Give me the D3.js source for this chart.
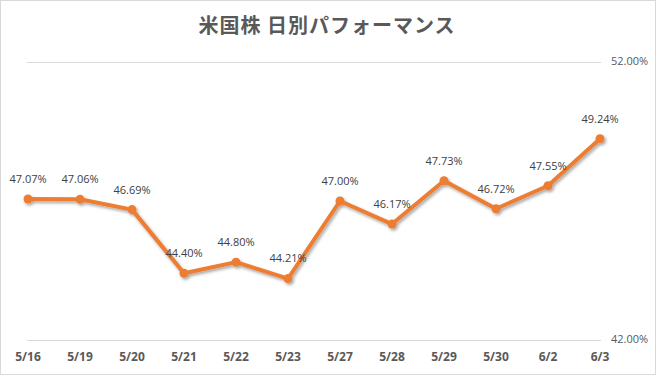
<!DOCTYPE html>
<html>
<head>
<meta charset="utf-8">
<script src="https://cdn.jsdelivr.net/npm/d3@7"></script>
<style>
  body { margin: 0; background: #fff; }
  text { font-family: 'Open Sans', 'Noto Sans', sans-serif; }
</style>
</head>
<body>
<div id="chart"></div>
<script>
let dates = ['5/16', '5/19', '5/20', '5/21', '5/22', '5/23', '5/27', '5/28', '5/29', '5/30', '6/2', '6/3']
let values = [47.07, 47.06, 46.69, 44.40, 44.80, 44.21, 47.00, 46.17, 47.73, 46.72, 47.55, 49.24]
let yTicks = [42, 52]

let width = 657
let height = 376
let margin = { top: 62, left: 28, right: 57, bottom: 36 }

let svg = d3
  .select('#chart')
  .append('svg')
  .attr('width', width)
  .attr('height', height)

// drop shadow for the line
let defs = svg.append('defs')
let filter = defs.append('filter').attr('id', 'shadow')
  .attr('x', '-10%').attr('y', '-10%').attr('width', '120%').attr('height', '130%')
filter.append('feDropShadow')
  .attr('dx', 1.5).attr('dy', 2).attr('stdDeviation', 1.5)
  .attr('flood-color', '#000').attr('flood-opacity', 0.35)

// outer border
svg.append('rect')
  .attr('x', 0.5).attr('y', 0.5)
  .attr('width', width - 2).attr('height', height - 2)
  .attr('fill', '#fff')
  .attr('stroke', '#d9d9d9')

let xScale = d3.scalePoint()
  .domain(dates)
  .range([margin.left, width - margin.right])

let yScale = d3.scaleLinear()
  .domain([42, 52])
  .range([height - margin.bottom, margin.top])

// gridlines
svg.selectAll('.grid')
  .data(yTicks)
  .enter()
  .append('line')
  .attr('class', 'grid')
  .attr('x1', margin.left - 1)
  .attr('x2', width - margin.right + 1)
  .attr('y1', d => Math.round(yScale(d)) + 0.5)
  .attr('y2', d => Math.round(yScale(d)) + 0.5)
  .attr('stroke', '#d9d9d9')

// right axis labels
svg.selectAll('.y-label')
  .data(yTicks)
  .enter()
  .append('text')
  .attr('class', 'y-label')
  .text(d => d.toFixed(2) + '%')
  .attr('x', width - margin.right + 11)
  .attr('y', d => yScale(d))
  .attr('dominant-baseline', 'middle')
  .attr('font-size', 11)
  .attr('fill', '#595959')

// x labels
svg.selectAll('.x-label')
  .data(dates)
  .enter()
  .append('text')
  .attr('class', 'x-label')
  .text(d => d)
  .attr('x', d => xScale(d))
  .attr('y', height - 18)
  .attr('text-anchor', 'middle')
  .attr('dominant-baseline', 'middle')
  .attr('font-size', 12)
  .attr('font-weight', 'bold')
  .attr('fill', '#595959')

let line = d3.line()
  .x((d, i) => xScale(dates[i]))
  .y(d => yScale(d))

let series = svg.append('g').attr('filter', 'url(#shadow)')

series.append('path')
  .datum(values)
  .attr('d', line)
  .attr('fill', 'none')
  .attr('stroke', '#ed7d31')
  .attr('stroke-width', 4)
  .attr('stroke-linejoin', 'round')
  .attr('stroke-linecap', 'round')

series.selectAll('.dot')
  .data(values)
  .enter()
  .append('circle')
  .attr('class', 'dot')
  .attr('cx', (d, i) => xScale(dates[i]))
  .attr('cy', d => yScale(d))
  .attr('r', 4.5)
  .attr('fill', '#ed7d31')

// data labels
svg.selectAll('.value-label')
  .data(values)
  .enter()
  .append('text')
  .attr('class', 'value-label')
  .text(d => d.toFixed(2) + '%')
  .attr('x', (d, i) => xScale(dates[i]))
  .attr('y', d => yScale(d) - 19)
  .attr('text-anchor', 'middle')
  .attr('dominant-baseline', 'middle')
  .attr('font-size', 11)
  .attr('fill', '#404040')

// title
svg.append('text')
  .text('米国株 日別パフォーマンス')
  .attr('x', 327)
  .attr('y', 28)
  .attr('text-anchor', 'middle')
  .attr('dominant-baseline', 'middle')
  .attr('font-size', 20)
  .attr('font-weight', 'bold')
  .attr('fill', '#595959')
  .style('font-family', "'Noto Sans CJK JP', sans-serif")
  .style('letter-spacing', '1px')
</script>
</body>
</html>
